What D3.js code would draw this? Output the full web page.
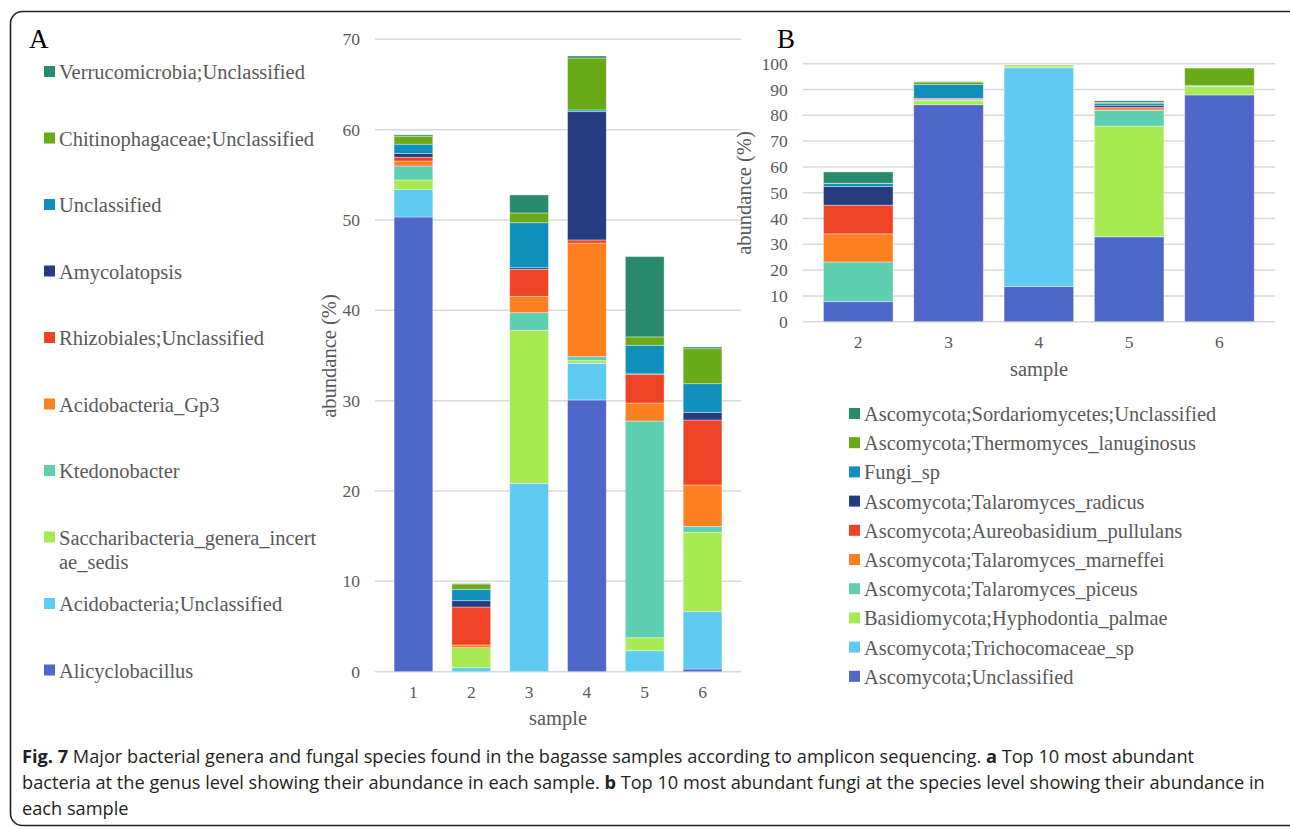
<!DOCTYPE html>
<html lang="en">
<head>
<meta charset="UTF-8">
<title>Fig. 7 bacterial genera and fungal species</title>
<script src="https://cdnjs.cloudflare.com/ajax/libs/d3/7.8.5/d3.min.js"></script>
<style>
    body { margin: 0; background: #fff; }
</style>
</head>
<body>
<svg id="fig" width="1290" height="829"></svg>
<script>
    // ---- panel A: bacteria (samples 1-6), bottom to top ----
    const samplesA = ["1", "2", "3", "4", "5", "6"];
    const bacteria = [
        "Alicyclobacillus", "Acidobacteria;Unclassified", "Saccharibacteria_genera_incertae_sedis",
        "Ktedonobacter", "Acidobacteria_Gp3", "Rhizobiales;Unclassified", "Amycolatopsis",
        "Unclassified", "Chitinophagaceae;Unclassified", "Verrucomicrobia;Unclassified"
    ];
    const alicyclobacillus = [50.33, 0, 0, 30.08, 0, 0.30];
    const acidoUnclass     = [3.03, 0.44, 20.85, 4.06, 2.32, 6.34];
    const saccharibacteria = [1.07, 2.22, 16.94, 0.29, 1.44, 8.79];
    const ktedonobacter    = [1.55, 0, 1.95, 0.44, 23.99, 0.66];
    const acidoGp3         = [0.55, 0.30, 1.81, 12.58, 1.99, 4.58];
    const rhizobiales      = [0.42, 4.20, 2.99, 0.34, 3.18, 7.19];
    const amycolatopsis    = [0.40, 0.70, 0.18, 14.20, 0.05, 0.85];
    const unclassifiedA    = [1.04, 1.26, 4.98, 0.19, 3.17, 3.17];
    const chitinophagaceae = [0.88, 0.59, 1.08, 5.75, 0.92, 3.87];
    const verrucomicrobia  = [0.15, 0.05, 1.99, 0.22, 8.89, 0.19];
    const valuesA = [alicyclobacillus, acidoUnclass, saccharibacteria, ktedonobacter, acidoGp3,
                     rhizobiales, amycolatopsis, unclassifiedA, chitinophagaceae, verrucomicrobia];
    const ticksA = [0, 10, 20, 30, 40, 50, 60, 70];

    // ---- panel B: fungi (samples 2-6), bottom to top ----
    const samplesB = ["2", "3", "4", "5", "6"];
    const fungi = [
        "Ascomycota;Unclassified", "Ascomycota;Trichocomaceae_sp", "Basidiomycota;Hyphodontia_palmae",
        "Ascomycota;Talaromyces_piceus", "Ascomycota;Talaromyces_marneffei", "Ascomycota;Aureobasidium_pullulans",
        "Ascomycota;Talaromyces_radicus", "Fungi_sp", "Ascomycota;Thermomyces_lanuginosus",
        "Ascomycota;Sordariomycetes;Unclassified"
    ];
    const ascoUnclass   = [7.75, 84.1, 13.6, 32.9, 87.9];
    const trichocomac   = [0, 0, 84.8, 0.1, 0];
    const hyphodontia   = [0, 1.5, 0.7, 42.8, 3.2];
    const piceus        = [15.4, 0.3, 0, 6.1, 0.3];
    const marneffei     = [10.9, 0.2, 0, 0.6, 0];
    const aureobasidium = [11.1, 0.3, 0, 0.6, 0];
    const radicus       = [7.2, 0.1, 0, 0.8, 0];
    const fungiSp       = [1.2, 5.4, 0.1, 0.8, 0.1];
    const thermomyces   = [0.1, 1.0, 0.3, 0.3, 6.8];
    const sordario      = [4.4, 0.1, 0, 0.6, 0];
    const valuesB = [ascoUnclass, trichocomac, hyphodontia, piceus, marneffei,
                     aureobasidium, radicus, fungiSp, thermomyces, sordario];
    const ticksB = d3.range(0, 101, 10);

    const palette = ["#4f67c8", "#5fcbf2", "#a8ea52", "#5ecfb1", "#fe8021",
                     "#ef4325", "#273b80", "#1190bd", "#6aa918", "#2a8a6e"];

    const SERIF = '"Liberation Serif", "Times New Roman", serif';
    const SANS = '"Open Sans", "Noto Sans", sans-serif';
    const GREY = "#595959";

    const svg = d3.select("#fig");

    // outer frame
    svg.append("rect")
        .attr("x", 10.5).attr("y", 11.5)
        .attr("width", 1300).attr("height", 814)
        .attr("rx", 12)
        .attr("fill", "none").attr("stroke", "#222").attr("stroke-width", 1.6);

    function label(x, y, txt, size, opts = {}) {
        const t = svg.append("text")
            .attr("x", x).attr("y", y)
            .style("font-family", SERIF)
            .style("font-size", size + "px")
            .attr("fill", opts.fill || GREY)
            .attr("text-anchor", opts.anchor || "start")
            .text(txt);
        if (opts.rotate) t.attr("transform", `rotate(-90,${x},${y})`);
        return t;
    }

    function stackedChart(opts) {
        const { samples, series, values, ticks, x0, x1, y0, y1, pad } = opts;
        const rows = samples.map((s, i) => {
            const r = { sample: s };
            series.forEach((name, k) => r[name] = values[k][i]);
            return r;
        });
        const stacked = d3.stack().keys(series)(rows);

        const x = d3.scaleBand().domain(samples).range([x0, x1]).padding(pad);
        const y = d3.scaleLinear().domain([0, d3.max(ticks)]).range([y0, y1]);

        const g = svg.append("g");

        // gridlines
        g.append("g")
            .selectAll("line")
            .data(ticks)
            .join("line")
            .attr("x1", x0).attr("x2", x1)
            .attr("y1", d => y(d)).attr("y2", d => y(d))
            .attr("stroke", "#d9d9d9").attr("stroke-width", 1.5);

        const yAxis = g.append("g")
            .attr("transform", `translate(${x0},0)`)
            .call(d3.axisLeft(y).tickValues(ticks).tickSize(0).tickPadding(15));
        yAxis.select(".domain").remove();

        const xAxis = g.append("g")
            .attr("transform", `translate(0,${y0})`)
            .call(d3.axisBottom(x).tickSize(0).tickPadding(14));
        xAxis.select(".domain").remove();

        g.selectAll(".tick text")
            .style("font-family", SERIF)
            .style("font-size", "17.5px")
            .attr("fill", GREY);

        g.append("g")
            .selectAll("g")
            .data(stacked)
            .join("g")
            .attr("fill", (d, i) => palette[i])
            .selectAll("rect")
            .data(d => d)
            .join("rect")
            .attr("x", d => x(d.data.sample))
            .attr("width", x.bandwidth())
            .attr("y", d => y(d[1]))
            .attr("height", d => y(d[0]) - y(d[1]))
            .attr("stroke", "#ffffff")
            .attr("stroke-opacity", 0.45)
            .attr("stroke-width", 0.8);

        return { x, y, g };
    }

    function legend(names, colors, x, yStart, step, size, wrap) {
        const lg = svg.append("g").selectAll("g")
            .data(names)
            .join("g")
            .attr("transform", (d, i) => `translate(${x},${yStart + i * step})`);
        lg.append("rect")
            .attr("x", 0).attr("y", -6).attr("width", 11).attr("height", 11)
            .attr("fill", (d, i) => colors[i]);
        lg.append("text")
            .attr("x", 15).attr("y", 7)
            .style("font-family", SERIF)
            .style("font-size", size + "px")
            .attr("fill", GREY)
            .each(function (d) {
                const t = d3.select(this);
                if (wrap && wrap[d]) {
                    t.append("tspan").attr("x", 15).text(wrap[d][0]);
                    t.append("tspan").attr("x", 15).attr("dy", 24).text(wrap[d][1]);
                } else {
                    t.text(d);
                }
            });
    }

    // ---------- Panel A ----------
    stackedChart({
        samples: samplesA, series: bacteria, values: valuesA, ticks: ticksA,
        x0: 375, x1: 741, y0: 671.7, y1: 39.3, pad: 0.33
    });
    label(29, 48, "A", 27, { fill: "#000" });
    label(336, 356, "abundance (%)", 20.5, { anchor: "middle", rotate: true });
    label(558, 725, "sample", 20.5, { anchor: "middle" });
    legend(bacteria.slice().reverse(), palette.slice().reverse(), 44, 72, 66.5, 20.5, {
        "Saccharibacteria_genera_incertae_sedis": ["Saccharibacteria_genera_incert", "ae_sedis"]
    });

    // ---------- Panel B ----------
    stackedChart({
        samples: samplesB, series: fungi, values: valuesB, ticks: ticksB,
        x0: 802.7, x1: 1275, y0: 321.7, y1: 63.7, pad: 0.23
    });
    label(777, 48, "B", 27, { fill: "#000" });
    label(751, 193, "abundance (%)", 20.5, { anchor: "middle", rotate: true });
    label(1039, 376, "sample", 20.5, { anchor: "middle" });
    legend(fungi.slice().reverse(), palette.slice().reverse(), 849, 414, 29.2, 20.4);

    // ---------- caption ----------
    const captionLines = [
        [["Fig. 7", true], [" Major bacterial genera and fungal species found in the bagasse samples according to amplicon sequencing. ", false], ["a", true], [" Top 10 most abundant", false]],
        [["bacteria at the genus level showing their abundance in each sample. ", false], ["b", true], [" Top 10 most abundant fungi at the species level showing their abundance in", false]],
        [["each sample", false]]
    ];
    const capTexts = captionLines.map((line, i) => {
        const t = svg.append("text")
            .attr("x", 22).attr("y", 763 + i * 26)
            .style("font-family", SANS)
            .style("font-size", "17px")
            .attr("fill", "#231f20");
        line.forEach(([s, b]) => t.append("tspan").attr("font-weight", b ? 700 : 400).text(s));
        return t;
    });
    // fit the second (full) line to the text block width
    const w2 = capTexts[1].node().getComputedTextLength();
    const fs = 17 * 1243 / w2;
    capTexts.forEach(t => t.style("font-size", fs + "px"));
</script>
</body>
</html>
